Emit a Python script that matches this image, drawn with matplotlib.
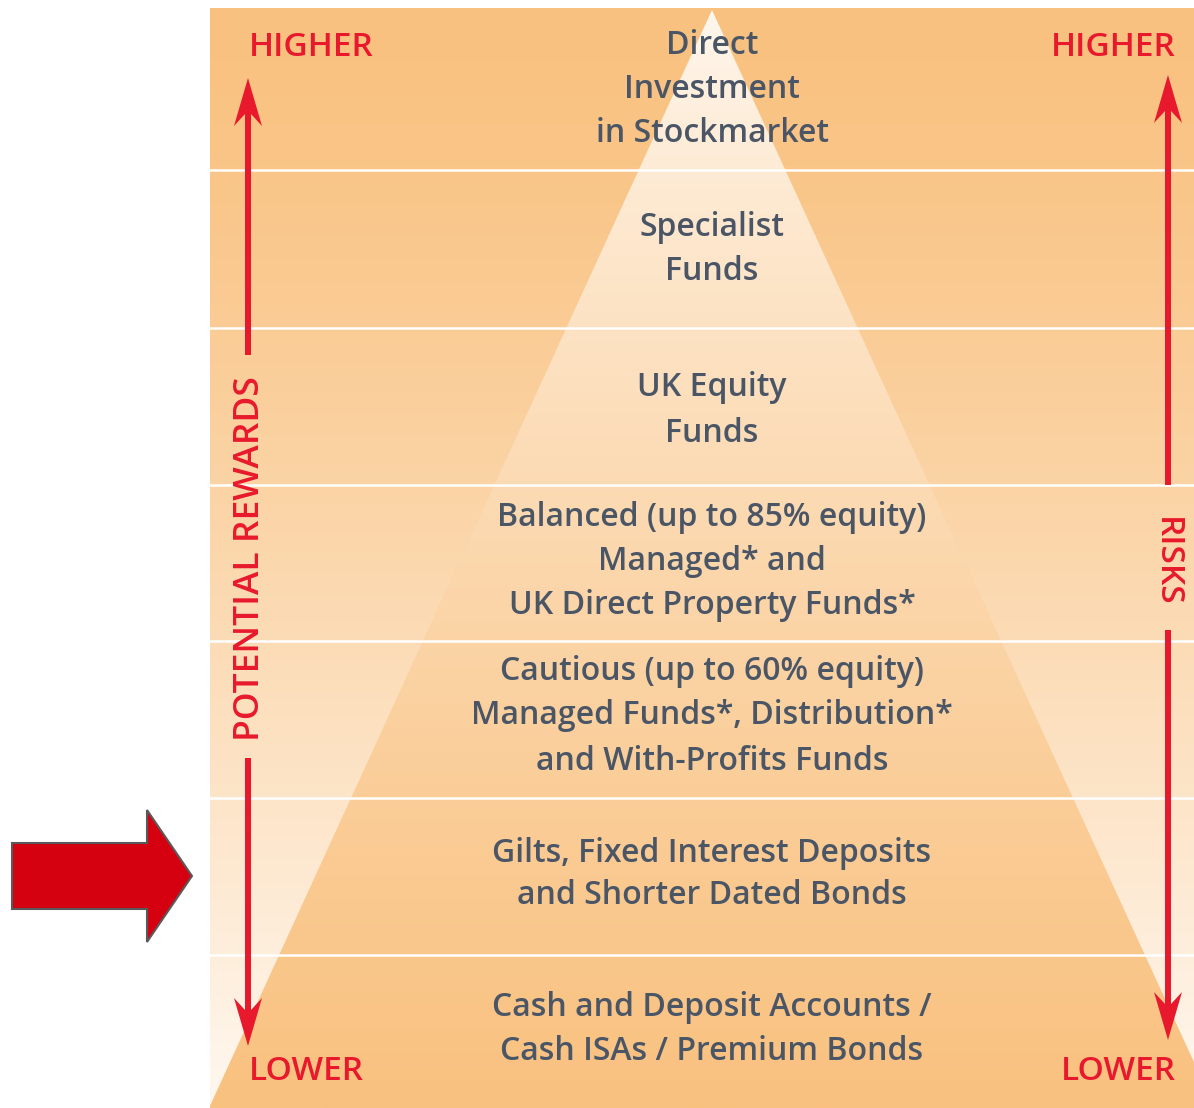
import numpy as np
import matplotlib
matplotlib.use("Agg")
import matplotlib.pyplot as plt
from matplotlib.patches import Polygon, FancyArrow
from matplotlib.colors import to_rgb

# bands of the risk pyramid, top to bottom
band_edges = [8, 170, 328, 485, 641, 798, 955, 1108]
band_labels = [
    ["Direct", "Investment", "in Stockmarket"],
    ["Specialist", "Funds"],
    ["UK Equity", "Funds"],
    ["Balanced (up to 85% equity)", "Managed* and", "UK Direct Property Funds*"],
    ["Cautious (up to 60% equity)", "Managed Funds*, Distribution*", "and With-Profits Funds"],
    ["Gilts, Fixed Interest Deposits", "and Shorter Dated Bonds"],
    ["Cash and Deposit Accounts /", "Cash ISAs / Premium Bonds"],
]
label_y = [
    [46, 89, 134],
    [228, 271],
    [388, 433],
    [518, 561, 606],
    [671, 716, 762],
    [853, 895],
    [1008, 1052],
]

W, H = 1194, 1108
left, right = 210, 1194
apex = (712, 10)
base = [(209, 1108), (1215, 1108)]

orange = np.array(to_rgb("#f9c17f"))
pale = np.array(to_rgb("#fff8f0"))
txt_col = "#4a5566"
red = "#e8192c"
fs = 23

fig = plt.figure(figsize=(W / 100, H / 100), dpi=100)
ax = fig.add_axes([0, 0, 1, 1])
ax.set_xlim(0, W)
ax.set_ylim(H, 0)
ax.axis("off")

# background: orange at top fading to pale at bottom
t = np.linspace(0, 1, 400)[:, None, None] ** 1.3
bg = orange * (1 - t) + pale * t
ax.imshow(bg, extent=[left, right, H, band_edges[0]], aspect="auto", origin="upper", zorder=0)

# pyramid: pale at apex going to orange at the base
t2 = np.linspace(0, 1, 400)[:, None, None] ** 0.75
tri = pale * (1 - t2) + orange * t2
im = ax.imshow(tri, extent=[left, right, H, band_edges[0]], aspect="auto", origin="upper", zorder=1)
poly = Polygon([apex] + base, closed=True, transform=ax.transData, facecolor="none", edgecolor="none")
ax.add_patch(poly)
im.set_clip_path(poly)

# white separator lines
for y in band_edges[1:-1]:
    ax.plot([left, right], [y, y], color="white", lw=1.8, zorder=2)

# band labels
for lines, ys in zip(band_labels, label_y):
    for s, y in zip(lines, ys):
        ax.text(712, y, s, ha="center", va="center", fontsize=fs, color=txt_col,
                family="Open Sans", fontweight="semibold", zorder=5)

# red axis labels
for x, ha in [(249, "left"), (1176, "right")]:
    ax.text(x, 47, "HIGHER", ha=ha, va="center", fontsize=fs + 1, color=red,
            family="Open Sans", fontweight="semibold", zorder=5)
    ax.text(x, 1071, "LOWER", ha=ha, va="center", fontsize=fs + 1, color=red,
            family="Open Sans", fontweight="semibold", zorder=5)

ax.text(250, 559, "POTENTIAL REWARDS", rotation=90, ha="center", va="center", fontsize=fs + 2.5,
        color=red, family="Open Sans", fontweight="semibold", zorder=5)
ax.text(1166, 562, "RISKS", rotation=270, ha="center", va="center", fontsize=fs + 1,
        color=red, family="Open Sans", fontweight="semibold", zorder=5)


def red_arrow(x, y0, y1):
    ax.add_patch(FancyArrow(x, y0, 0, y1 - y0, width=6, head_width=28, head_length=48,
                            overhang=0.25, length_includes_head=True, color=red, lw=0, zorder=4))


# left arrow (rewards)
red_arrow(248, 355, 78)
red_arrow(248, 758, 1046)
# right arrow (risks)
red_arrow(1168, 485, 75)
red_arrow(1168, 630, 1040)

# big pointer arrow on the left
pointer = [(12, 843), (147, 843), (147, 810), (192, 876), (147, 942), (147, 909), (12, 909)]
ax.add_patch(Polygon(pointer, closed=True, facecolor="#d50010", edgecolor="#5a5a5a", lw=1.5, zorder=5))

fig.savefig("out.png", dpi=100)
